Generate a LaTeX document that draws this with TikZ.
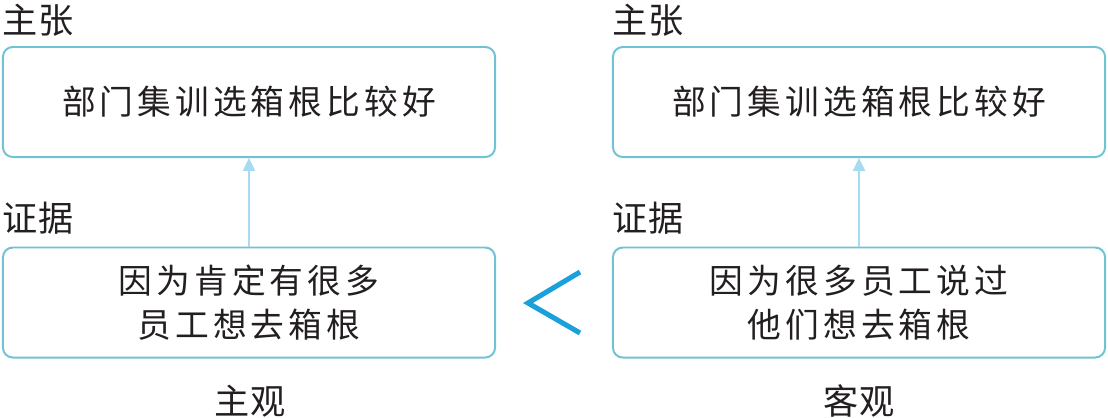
\documentclass[tikz,border=0pt]{standalone}
\usepackage{fontspec}
\setmainfont{Noto Sans CJK SC}
\newfontfamily\boxfont[LetterSpace=12]{Noto Sans CJK SC}
\usetikzlibrary{arrows.meta}
\definecolor{frameTeal}{HTML}{6FC3D4}
\definecolor{linkBlue}{HTML}{A6DBF1}
\definecolor{markBlue}{HTML}{1AA0DA}
\definecolor{inkBlack}{HTML}{231F20}

\begin{document}
\begin{tikzpicture}[x=0.025cm,y=-0.025cm,
 claim/.style={rounded corners=7pt,draw=frameTeal,line width=1.4pt,fill=white,text=inkBlack,font=\boxfont\fontsize{24}{31}\selectfont,align=center,minimum width=12.3cm,minimum height=2.75cm,inner sep=0pt},
 tag/.style={text=inkBlack,font=\fontsize{25}{29}\selectfont,inner sep=0pt},
 link/.style={-{Triangle[length=3.2mm,width=3mm]},line width=1.3pt,draw=linkBlue}
]
\useasboundingbox (0,0) rectangle (1108,417);

% left column
\node[claim] (lclaim) at (249,102) {部门集训选箱根比较好};
\node[claim] (lproof) at (249,302.5) {因为肯定有很多\\员工想去箱根};
\node[tag] (ltag1) at (38,20) {主张};
\node[tag] (ltag2) at (38,218) {证据};
\node[tag] (lkind) at (250,401) {主观};
\draw[link] (lproof.north) -- (lclaim.south);

% right column
\node[claim] (rclaim) at (859,102) {部门集训选箱根比较好};
\node[claim] (rproof) at (859,302.5) {因为很多员工说过\\他们想去箱根};
\node[tag] (rtag1) at (648,20) {主张};
\node[tag] (rtag2) at (648,218) {证据};
\node[tag] (rkind) at (859,401) {客观};
\draw[link] (rproof.north) -- (rclaim.south);

% comparison mark
\draw[markBlue,line width=3.6pt] (580,272) -- (528,303) -- (580,333);
\end{tikzpicture}
\end{document}
